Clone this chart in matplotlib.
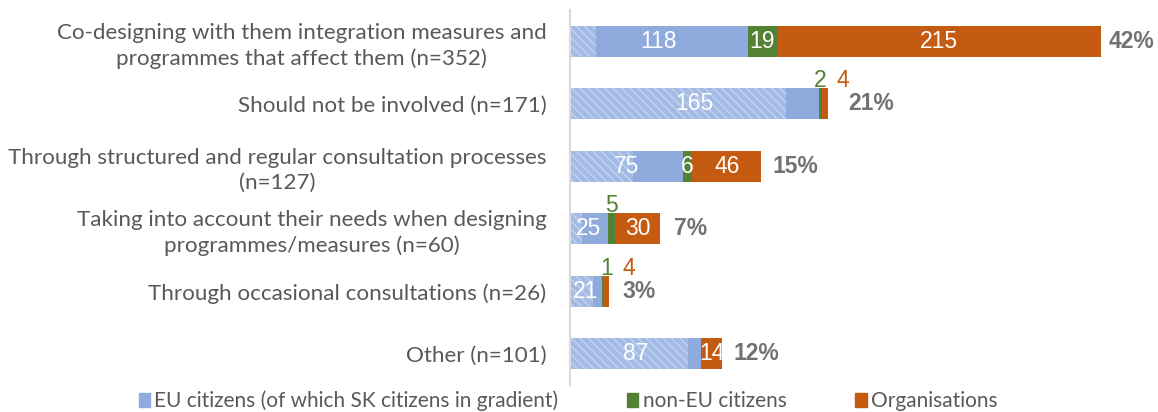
import matplotlib
matplotlib.use("Agg")
import matplotlib.pyplot as plt
from matplotlib.patches import Patch
import numpy as np

categories = [
    "Co-designing with them integration measures and\nprogrammes that affect them (n=352)",
    "Should not be involved (n=171)",
    "Through structured and regular consultation processes\n(n=127)",
    "Taking into account their needs when designing\nprogrammes/measures (n=60)",
    "Through occasional consultations (n=26)",
    "Other (n=101)",
]
eu_citizens = [118, 165, 75, 25, 21, 87]
sk_citizens = [17, 143, 42, 8, 15, 78]   # estimated hatched (gradient) portion
non_eu = [19, 2, 6, 5, 1, 0]
organisations = [215, 4, 46, 30, 4, 14]
percent_labels = ["42%", "21%", "15%", "7%", "3%", "12%"]

C_EU = "#8FAADC"
C_NONEU = "#548235"
C_ORG = "#C55A11"
C_PCT = "#767171"
C_TXT = "#595959"

fig = plt.figure(figsize=(11.58, 4.12), dpi=100)
ax = fig.add_axes([570/1158, 27/412, 588/1158, 375/412])

y = np.arange(len(categories))
h = 0.5
eu = np.array(eu_citizens); ne = np.array(non_eu); org = np.array(organisations)

ax.barh(y, eu, height=h, color=C_EU, linewidth=0)
ax.barh(y, sk_citizens, height=h, color="#A3BBE4", edgecolor="#C3D2EE",
        hatch="\\\\\\\\", linewidth=0)
ax.barh(y, ne, left=eu, height=h, color=C_NONEU, linewidth=0)
ax.barh(y, org, left=eu + ne, height=h, color=C_ORG, linewidth=0)

pct_gap_px = [8, 20, 11, 14, 13, 11]   # label offsets (style)

vfont = dict(family="Liberation Sans", fontsize=16.5)
for i in range(len(categories)):
    ax.text(eu[i] / 2, i, str(eu[i]), ha="center", va="center", color="white", **vfont)
    if ne[i] >= 6:
        ax.text(eu[i] + ne[i] / 2, i, str(ne[i]), ha="center", va="center", color="white", **vfont)
    if org[i] >= 10:
        ax.text(eu[i] + ne[i] + org[i] / 2, i, str(org[i]), ha="center", va="center", color="white", **vfont)
    total = eu[i] + ne[i] + org[i]
    ax.annotate(percent_labels[i], (total, i), xytext=(pct_gap_px[i] * 0.72, 0),
                textcoords="offset points",
                ha="left", va="center", color=C_PCT, fontweight="bold",
                family="Liberation Sans", fontsize=16.5)

# small values shown above the bars
small = [(1, "ne", 0), (1, "org", 13), (3, "ne", 0), (4, "ne", 3), (4, "org", 16)]
for i, kind, dx in small:
    if kind == "ne":
        xc = eu[i] + ne[i] / 2; val = ne[i]; col = C_NONEU
    else:
        xc = eu[i] + ne[i] + org[i] / 2; val = org[i]; col = C_ORG
    ax.annotate(str(val), (xc, i - h / 2), xytext=(dx, 0.5), textcoords="offset points",
                ha="center", va="baseline", color=col, family="Liberation Sans", fontsize=16.5)

ax.set_xlim(0, 390)
ax.set_ylim(len(categories) - 0.5, -0.5)
ax.set_yticks(y)
ax.set_yticklabels(categories, family="Lato", fontsize=16.1, color=C_TXT,
                   multialignment="center", linespacing=1.3)
ax.tick_params(axis="y", length=0, pad=17)
ax.set_xticks([])
for s in ["top", "right", "bottom"]:
    ax.spines[s].set_visible(False)
ax.spines["left"].set_color("#D9D9D9")
ax.spines["left"].set_linewidth(1.5)

handles = [Patch(color=C_EU, label="EU citizens (of which SK citizens in gradient)"),
           Patch(color=C_NONEU, label="non-EU citizens"),
           Patch(color=C_ORG, label="Organisations")]
fig.legend(handles=handles, loc="center", bbox_to_anchor=(568/1158, 1 - 401/412), ncol=3,
           frameon=False, prop=dict(family="Lato", size=15), labelcolor=C_TXT,
           handlelength=0.55, handleheight=0.6, handletextpad=0.2, columnspacing=3.3,
           borderaxespad=0, borderpad=0)

fig.savefig("out.png", dpi=100)
